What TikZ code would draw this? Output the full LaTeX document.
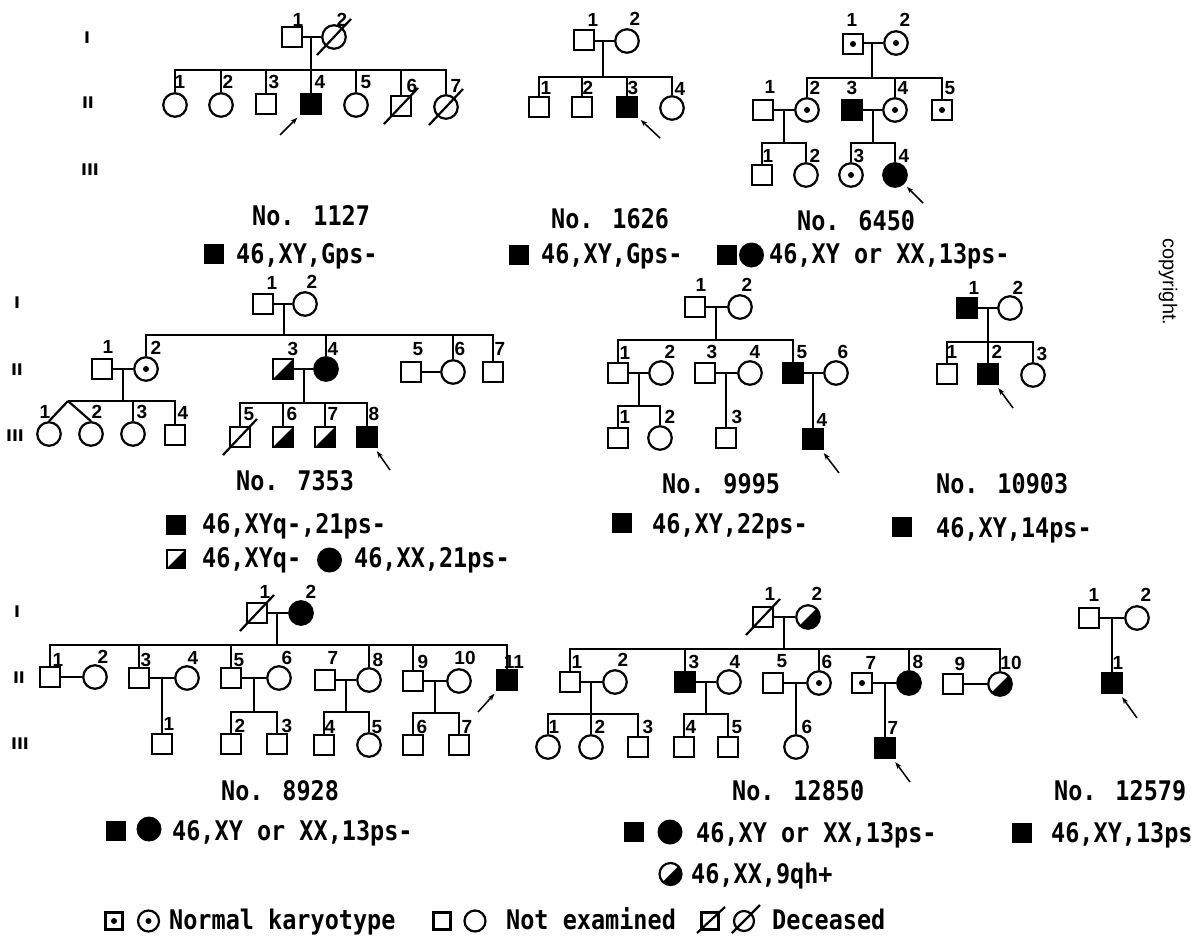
\documentclass[tikz,border=0pt]{standalone}
\usepackage{fontspec}
\usetikzlibrary{arrows.meta}
\newfontfamily\capfam[FakeStretch=0.87]{DejaVu Sans Mono}
\newfontfamily\numfam{Liberation Sans}
\newfontfamily\genfam{DejaVu Sans}
\tikzset{
 ln/.style={line width=2.2pt},
 sq/.style={draw, line width=2.2pt, rectangle, minimum size=19.5pt, inner sep=0pt},
 ci/.style={draw, line width=2.2pt, circle, minimum size=23.5pt, inner sep=0pt},
 aff/.style={fill=black},
 nk/.style={path picture={\fill[black] (path picture bounding box.center) circle (3pt);}},
 halffill/.style={path picture={\fill[black] (path picture bounding box.south west) -- (path picture bounding box.north east) -- (path picture bounding box.south east) -- cycle;}},
 num/.style={font=\numfam\bfseries\fontsize{19}{19}\selectfont, inner sep=0pt},
 gen/.style={font=\genfam\bfseries\fontsize{16}{16}\selectfont, inner sep=0pt},
 captxt/.style={font=\capfam\bfseries\fontsize{27}{30}\selectfont, inner sep=0pt, anchor=base west},
 ksq/.style={rectangle, fill=black, minimum size=20pt, inner sep=0pt},
 kci/.style={circle, fill=black, minimum size=25pt, inner sep=0pt},
 prob/.style={line width=1.5pt, -{Stealth[length=7pt,width=5pt]}, shorten >=4pt},
}
\newcommand\lb[3]{\node[num] (#1) at (#2) {#3};}
\newcommand\dec[1]{\draw[ln] (#1.center) ++(-17,18) -- ++(34,-36);}
\begin{document}
\begin{tikzpicture}[x=1pt,y=-1pt]
\fill[white] (0,0) rectangle (1191,937);
\useasboundingbox (0,0) rectangle (1191,937);

% generation labels
\node[gen] (g1a) at (87,38) {I};
\node[gen] (g1b) at (88,103) {II};
\node[gen] (g1c) at (90,170) {III};
\node[gen] (g2a) at (17,303) {I};
\node[gen] (g2b) at (17,370) {II};
\node[gen] (g2c) at (15,436) {III};
\node[gen] (g3a) at (17,612) {I};
\node[gen] (g3b) at (19,678) {II};
\node[gen] (g3c) at (20,744) {III};

% ================= No. 1127
\node[sq] (A11) at (292,37) {};
\node[ci] (A12) at (334,37) {};
\coordinate (A-d) at (311,37); \coordinate (A-s) at (311,70);
\node[ci] (A21) at (175,105) {};
\node[ci] (A22) at (221,105) {};
\node[sq] (A23) at (266,104) {};
\node[sq,aff] (A24) at (311,104) {};
\node[ci] (A25) at (356,105) {};
\node[sq] (A26) at (401,106) {};
\node[ci] (A27) at (446,107) {};
\dec{A12} \dec{A26} \dec{A27}
\draw[ln] (A11) -- (A12);
\draw[ln] (A-d) -- (A-s);
\draw[ln] (A21.north) -- (A21.north |- A-s) -- (A27.north |- A-s) -- (A27.north);
\foreach \n in {A22,A23,A24,A25,A26} \draw[ln] (\n.north |- A-s) -- (\n.north);
\lb{Al11}{298,20}{1} \lb{Al12}{342,20}{2}
\lb{Al21}{180,82}{1} \lb{Al22}{228,82}{2} \lb{Al23}{274,82}{3} \lb{Al24}{320,82}{4}
\lb{Al25}{366,82}{5} \lb{Al26}{412,86}{6} \lb{Al27}{456,86}{7}
\coordinate (A-a) at (280,135); \draw[prob] (A-a) -- (A24);
\node[captxt] (A-no) at (252,225) {No. 1127};
\node[ksq] (A-k) at (214,254) {};
\node[captxt] (A-kt) at (236,263) {46,XY,Gps-};

% ================= No. 1626
\node[sq] (B11) at (584,40) {};
\node[ci] (B12) at (627,41) {};
\coordinate (B-d) at (603,41); \coordinate (B-s) at (603,77);
\node[sq] (B21) at (539,107) {};
\node[sq] (B22) at (582,107) {};
\node[sq,aff] (B23) at (627,107) {};
\node[ci] (B24) at (672,108) {};
\draw[ln] (B11.east |- B-d) -- (B12);
\draw[ln] (B-d) -- (B-s);
\draw[ln] (B21.north) -- (B21.north |- B-s) -- (B24.north |- B-s) -- (B24.north);
\foreach \n in {B22,B23} \draw[ln] (\n.north |- B-s) -- (\n.north);
\lb{Bl11}{593,20}{1} \lb{Bl12}{635,19}{2}
\lb{Bl21}{546,88}{1} \lb{Bl22}{588,88}{2} \lb{Bl23}{633,88}{3} \lb{Bl24}{680,89}{4}
\coordinate (B-a) at (660,138); \draw[prob] (B-a) -- (B23);
\node[captxt] (B-no) at (551,228) {No. 1626};
\node[ksq] (B-k) at (519,255) {};
\node[captxt] (B-kt) at (541,263) {46,XY,Gps-};

% ================= No. 6450
\node[sq,nk] (C11) at (853,44) {};
\node[ci,nk] (C12) at (896,43) {};
\coordinate (C-d) at (872,43); \coordinate (C-s) at (872,78);
\node[sq] (C21) at (763,110) {};
\node[ci,nk] (C22) at (807,110) {};
\node[sq,aff] (C23) at (852,110) {};
\node[ci,nk] (C24) at (895,110) {};
\node[sq,nk] (C25) at (942,110) {};
\draw[ln] (C11.east |- C-d) -- (C12);
\draw[ln] (C-d) -- (C-s);
\draw[ln] (C22.north) -- (C22.north |- C-s) -- (C25.north |- C-s) -- (C25.north);
\draw[ln] (C24.north |- C-s) -- (C24.north);
\draw[ln] (C21) -- (C22);
\draw[ln] (C23) -- (C24);
\coordinate (C-d1) at (784,110); \coordinate (C-s1) at (784,143);
\coordinate (C-d2) at (873,110); \coordinate (C-s2) at (873,143);
\draw[ln] (C-d1) -- (C-s1);
\draw[ln] (C-d2) -- (C-s2);
\node[sq] (C31) at (762,175) {};
\node[ci] (C32) at (806,175) {};
\node[ci,nk] (C33) at (851,175) {};
\node[ci,aff] (C34) at (895,175) {};
\draw[ln] (C31.north) -- (C31.north |- C-s1) -- (C32.north |- C-s1) -- (C32.north);
\draw[ln] (C33.north) -- (C33.north |- C-s2) -- (C34.north |- C-s2) -- (C34.north);
\lb{Cl11}{852,20}{1} \lb{Cl12}{905,20}{2}
\lb{Cl21}{770,87}{1} \lb{Cl22}{815,88}{2} \lb{Cl23}{852,88}{3} \lb{Cl24}{903,88}{4} \lb{Cl25}{950,88}{5}
\lb{Cl31}{768,156}{1} \lb{Cl32}{815,156}{2} \lb{Cl33}{859,156}{3} \lb{Cl34}{904,156}{4}
\coordinate (C-a) at (923,203); \draw[prob] (C-a) -- (C34);
\node[captxt] (C-no) at (797,230) {No. 6450};
\node[ksq] (C-k1) at (727,255) {};
\node[kci] (C-k2) at (751.5,255) {};
\node[captxt] (C-kt) at (769,263) {46,XY or XX,13ps-};

% ================= No. 7353
\node[sq] (D11) at (263,304) {};
\node[ci] (D12) at (305,304) {};
\coordinate (D-d) at (284,304); \coordinate (D-s) at (284,335);
\node[sq] (D21) at (102,369) {};
\node[ci,nk] (D22) at (146,369) {};
\node[sq,halffill] (D23) at (283,369) {};
\node[ci,aff] (D24) at (326,369) {};
\node[sq] (D25) at (411,372) {};
\node[ci] (D26) at (453,372) {};
\node[sq] (D27) at (493,372) {};
\draw[ln] (D11) -- (D12);
\draw[ln] (D-d) -- (D-s);
\draw[ln] (D22.north) -- (D22.north |- D-s) -- (D27.north |- D-s) -- (D27.north);
\foreach \n in {D24,D26} \draw[ln] (\n.north |- D-s) -- (\n.north);
\draw[ln] (D21) -- (D22);
\draw[ln] (D23) -- (D24);
\draw[ln] (D25) -- (D26);
\coordinate (D-d1) at (123,369); \coordinate (D-s1) at (123,401);
\coordinate (D-d2) at (304,369); \coordinate (D-s2) at (304,403);
\draw[ln] (D-d1) -- (D-s1);
\draw[ln] (D-d2) -- (D-s2);
\node[ci] (D31) at (49,434) {};
\node[ci] (D32) at (91,434) {};
\node[ci] (D33) at (133,434) {};
\node[sq] (D34) at (175,435) {};
\coordinate (D-tw) at (68,401);
\draw[ln] (D-tw) -- (D34.north |- D-s1) -- (D34.north);
\draw[ln] (D33.north |- D-s1) -- (D33.north);
\draw[ln] (D-tw) -- (D31.north);
\draw[ln] (D-tw) -- (D32.north);
\node[sq] (D35) at (240,437) {};
\node[sq,halffill] (D36) at (283,437) {};
\node[sq,halffill] (D37) at (325,437) {};
\node[sq,aff] (D38) at (367,437) {};
\dec{D35}
\draw[ln] (D35.north) -- (D35.north |- D-s2) -- (D38.north |- D-s2) -- (D38.north);
\foreach \n in {D36,D37} \draw[ln] (\n.north |- D-s2) -- (\n.north);
\lb{Dl11}{272,283}{1} \lb{Dl12}{312,282}{2}
\lb{Dl21}{108,347}{1} \lb{Dl22}{156,348}{2} \lb{Dl23}{293,349}{3} \lb{Dl24}{333,349}{4}
\lb{Dl25}{418,349}{5} \lb{Dl26}{460,349}{6} \lb{Dl27}{500,349}{7}
\lb{Dl31}{45,412}{1} \lb{Dl32}{97,412}{2} \lb{Dl33}{142,412}{3} \lb{Dl34}{183,413}{4}
\lb{Dl35}{249,414}{5} \lb{Dl36}{292,414}{6} \lb{Dl37}{333,414}{7} \lb{Dl38}{374,414}{8}
\coordinate (D-a) at (390,470); \draw[prob] (D-a) -- (D38);
\node[captxt] (D-no) at (236,490) {No. 7353};
\node[ksq] (D-k1) at (176,525) {};
\node[captxt] (D-kt1) at (202,533) {46,XYq-,21ps-};
\node[sq,halffill,minimum size=18pt] (D-k2) at (176,559) {};
\node[captxt] (D-kt2) at (202,567) {46,XYq-};
\node[kci] (D-k3) at (329.5,560) {};
\node[captxt] (D-kt3) at (354,567) {46,XX,21ps-};

% ================= No. 9995
\node[sq] (E11) at (695,307) {};
\node[ci] (E12) at (740,307) {};
\coordinate (E-d) at (716,307); \coordinate (E-s) at (716,340);
\node[sq] (E21) at (618,373) {};
\node[ci] (E22) at (661,373) {};
\node[sq] (E23) at (705,373) {};
\node[ci] (E24) at (750,373) {};
\node[sq,aff] (E25) at (793,373) {};
\node[ci] (E26) at (836,373) {};
\draw[ln] (E11) -- (E12);
\draw[ln] (E-d) -- (E-s);
\draw[ln] (E21.north) -- (E21.north |- E-s) -- (E25.north |- E-s) -- (E25.north);
\draw[ln] (E21) -- (E22);
\draw[ln] (E23) -- (E24);
\draw[ln] (E25) -- (E26);
\coordinate (E-d1) at (639,373); \coordinate (E-s1) at (639,406);
\draw[ln] (E-d1) -- (E-s1);
\node[sq] (E31) at (618,438) {};
\node[ci] (E32) at (660,438) {};
\node[sq] (E33) at (726,438) {};
\node[sq,aff] (E34) at (813,439) {};
\draw[ln] (E31.north) -- (E31.north |- E-s1) -- (E32.north |- E-s1) -- (E32.north);
\coordinate (E-d2) at (726,373); \draw[ln] (E-d2) -- (E33.north);
\coordinate (E-d3) at (813,373); \draw[ln] (E-d3) -- (E34.north);
\lb{El11}{701,285}{1} \lb{El12}{747,285}{2}
\lb{El21}{625,353}{1} \lb{El22}{670,352}{2} \lb{El23}{712,352}{3} \lb{El24}{755,352}{4}
\lb{El25}{802,352}{5} \lb{El26}{843,352}{6}
\lb{El31}{625,417}{1} \lb{El32}{670,417}{2} \lb{El33}{737,417}{3} \lb{El34}{822,420}{4}
\coordinate (E-a) at (839,473); \draw[prob] (E-a) -- (E34);
\node[captxt] (E-no) at (662,493) {No. 9995};
\node[ksq] (E-k) at (622,523) {};
\node[captxt] (E-kt) at (652,533) {46,XY,22ps-};

% ================= No. 10903
\node[sq,aff] (F11) at (967,308) {};
\node[ci] (F12) at (1010,308) {};
\coordinate (F-d) at (988,308); \coordinate (F-s) at (988,342);
\node[sq] (F21) at (947,374) {};
\node[sq,aff] (F22) at (988,374) {};
\node[ci] (F23) at (1033,375) {};
\draw[ln] (F11) -- (F12);
\draw[ln] (F-d) -- (F22.north);
\draw[ln] (F21.north) -- (F21.north |- F-s) -- (F23.north |- F-s) -- (F23.north);
\lb{Fl11}{974,288}{1} \lb{Fl12}{1018,288}{2}
\lb{Fl21}{952,352}{1} \lb{Fl22}{997,352}{2} \lb{Fl23}{1042,354}{3}
\coordinate (F-a) at (1013,408); \draw[prob] (F-a) -- (F22);
\node[captxt] (F-no) at (936,493) {No. 10903};
\node[ksq] (F-k) at (902,527) {};
\node[captxt] (F-kt) at (936,537) {46,XY,14ps-};

% ================= No. 8928
\node[sq] (G11) at (257,613) {};
\node[ci,aff] (G12) at (301,613) {};
\dec{G11}
\coordinate (G-d) at (277,613); \coordinate (G-s) at (277,645);
\node[sq] (G21) at (50,677) {};
\node[ci] (G22) at (95,677) {};
\node[sq] (G23) at (139,678) {};
\node[ci] (G24) at (187,678) {};
\node[sq] (G25) at (231,678) {};
\node[ci] (G26) at (279,678) {};
\node[sq] (G27) at (325,680) {};
\node[ci] (G28) at (369,680) {};
\node[sq] (G29) at (413,681) {};
\node[ci] (G210) at (459,681) {};
\node[sq,aff] (G211) at (507,680) {};
\draw[ln] (G11) -- (G12);
\draw[ln] (G-d) -- (G-s);
\draw[ln] (G21.north) -- (G21.north |- G-s) -- (G211.north |- G-s) -- (G211.north);
\foreach \n in {G23,G25,G28,G29} \draw[ln] (\n.north |- G-s) -- (\n.north);
\draw[ln] (G21) -- (G22);
\draw[ln] (G23) -- (G24);
\draw[ln] (G25) -- (G26);
\draw[ln] (G27) -- (G28);
\draw[ln] (G29) -- (G210);
\node[sq] (G31) at (162,744) {};
\node[sq] (G32) at (231,744) {};
\node[sq] (G33) at (277,744) {};
\node[sq] (G34) at (324,745) {};
\node[ci] (G35) at (369,745) {};
\node[sq] (G36) at (413,745) {};
\node[sq] (G37) at (459,745) {};
\coordinate (G-d1) at (162,678); \draw[ln] (G-d1) -- (G31.north);
\coordinate (G-d2) at (254,678); \coordinate (G-s2) at (254,712);
\coordinate (G-d3) at (346,680); \coordinate (G-s3) at (346,712);
\coordinate (G-d4) at (435,681); \coordinate (G-s4) at (435,713);
\draw[ln] (G-d2) -- (G-s2);
\draw[ln] (G-d3) -- (G-s3);
\draw[ln] (G-d4) -- (G-s4);
\draw[ln] (G32.north) -- (G32.north |- G-s2) -- (G33.north |- G-s2) -- (G33.north);
\draw[ln] (G34.north) -- (G34.north |- G-s3) -- (G35.north |- G-s3) -- (G35.north);
\draw[ln] (G36.north) -- (G36.north |- G-s4) -- (G37.north |- G-s4) -- (G37.north);
\lb{Gl11}{265,592}{1} \lb{Gl12}{311,592}{2}
\lb{Gl21}{58,660}{1} \lb{Gl22}{103,657}{2} \lb{Gl23}{146,660}{3} \lb{Gl24}{193,658}{4}
\lb{Gl25}{239,660}{5} \lb{Gl26}{287,658}{6} \lb{Gl27}{333,658}{7} \lb{Gl28}{378,660}{8}
\lb{Gl29}{423,662}{9} \lb{Gl210}{465,658}{10} \lb{Gl211}{514,662}{11}
\lb{Gl31}{169,724}{1} \lb{Gl32}{240,726}{2} \lb{Gl33}{287,726}{3} \lb{Gl34}{330,727}{4}
\lb{Gl35}{377,727}{5} \lb{Gl36}{422,727}{6} \lb{Gl37}{467,727}{7}
\coordinate (G-a) at (478,712); \draw[prob] (G-a) -- (G211);
\node[captxt] (G-no) at (221,800) {No. 8928};
\node[ksq] (G-k1) at (116,831) {};
\node[kci] (G-k2) at (149,829) {};
\node[captxt] (G-kt) at (172,840) {46,XY or XX,13ps-};

% ================= No. 12850
\node[sq] (H11) at (763,617) {};
\node[ci,halffill] (H12) at (808,617) {};
\dec{H11}
\coordinate (H-d) at (784,617); \coordinate (H-s) at (784,649);
\node[sq] (H21) at (570,682) {};
\node[ci] (H22) at (615,682) {};
\node[sq,aff] (H23) at (685,682) {};
\node[ci] (H24) at (729,682) {};
\node[sq] (H25) at (773,683) {};
\node[ci,nk] (H26) at (819,683) {};
\node[sq,nk] (H27) at (862,683) {};
\node[ci,aff] (H28) at (909,683) {};
\node[sq] (H29) at (953,684) {};
\node[ci,halffill] (H210) at (1000,684) {};
\draw[ln] (H11) -- (H12);
\draw[ln] (H-d) -- (H-s);
\draw[ln] (H21.north) -- (H21.north |- H-s) -- (H210.north |- H-s) -- (H210.north);
\foreach \n in {H23,H26,H28} \draw[ln] (\n.north |- H-s) -- (\n.north);
\draw[ln] (H21) -- (H22);
\draw[ln] (H23) -- (H24);
\draw[ln] (H25) -- (H26);
\draw[ln] (H27) -- (H28);
\draw[ln] (H29) -- (H210);
\node[ci] (H31) at (548,747) {};
\node[ci] (H32) at (591,747) {};
\node[sq] (H33) at (638,747) {};
\node[sq] (H34) at (684,747) {};
\node[sq] (H35) at (728,747) {};
\node[ci] (H36) at (796,747) {};
\node[sq,aff] (H37) at (885,748) {};
\coordinate (H-d1) at (591,682); \coordinate (H-s1) at (591,714);
\coordinate (H-d2) at (706,682); \coordinate (H-s2) at (706,714);
\draw[ln] (H-d1) -- (H-s1);
\draw[ln] (H-d2) -- (H-s2);
\draw[ln] (H31.north) -- (H31.north |- H-s1) -- (H33.north |- H-s1) -- (H33.north);
\draw[ln] (H32.north |- H-s1) -- (H32.north);
\draw[ln] (H34.north) -- (H34.north |- H-s2) -- (H35.north |- H-s2) -- (H35.north);
\coordinate (H-d3) at (796,683); \draw[ln] (H-d3) -- (H36.north);
\coordinate (H-d4) at (885,683); \draw[ln] (H-d4) -- (H37.north);
\lb{Hl11}{770,594}{1} \lb{Hl12}{817,594}{2}
\lb{Hl21}{577,662}{1} \lb{Hl22}{623,660}{2} \lb{Hl23}{694,662}{3} \lb{Hl24}{735,662}{4}
\lb{Hl25}{782,661}{5} \lb{Hl26}{827,662}{6} \lb{Hl27}{871,663}{7} \lb{Hl28}{918,662}{8}
\lb{Hl29}{960,664}{9} \lb{Hl210}{1011,663}{10}
\lb{Hl31}{554,727}{1} \lb{Hl32}{600,727}{2} \lb{Hl33}{648,727}{3} \lb{Hl34}{691,727}{4}
\lb{Hl35}{737,727}{5} \lb{Hl36}{807,727}{6} \lb{Hl37}{893,728}{7}
\coordinate (H-a) at (910,782); \draw[prob] (H-a) -- (H37);
\node[captxt] (H-no) at (732,800) {No. 12850};
\node[ksq] (H-k1) at (634,832) {};
\node[kci] (H-k2) at (670,832) {};
\node[captxt] (H-kt1) at (696,842) {46,XY or XX,13ps-};
\node[ci,halffill,minimum size=22pt] (H-k3) at (670.5,874) {};
\node[captxt] (H-kt2) at (691,883) {46,XX,9qh+};

% ================= No. 12579
\node[sq] (K11) at (1089,618) {};
\node[ci] (K12) at (1137,618) {};
\node[sq,aff] (K21) at (1112,683) {};
\coordinate (K-d) at (1112,618);
\draw[ln] (K11) -- (K12);
\draw[ln] (K-d) -- (K21.north);
\lb{Kl11}{1094,595}{1} \lb{Kl12}{1146,595}{2} \lb{Kl21}{1118,663}{1}
\coordinate (K-a) at (1137,718); \draw[prob] (K-a) -- (K21);
\node[captxt] (K-no) at (1054,800) {No. 12579};
\node[ksq] (K-k) at (1022,833) {};
\node[captxt] (K-kt) at (1051,842) {46,XY,13ps};

% ================= legend
\node[sq,nk,minimum size=17pt] (L1) at (114,921) {};
\node[ci,nk,minimum size=21pt] (L2) at (148.5,921) {};
\node[captxt] (L3) at (169,929) {Normal karyotype};
\node[sq,minimum size=17pt] (L4) at (442,921) {};
\node[ci,minimum size=21pt] (L5) at (475,921) {};
\node[captxt] (L6) at (506,929) {Not examined};
\node[sq,minimum size=17pt] (L7) at (710,921) {};
\node[ci,minimum size=20pt] (L8) at (744,921) {};
\draw[ln] (L7.center) ++(-13,12) -- ++(28,-26);
\draw[ln] (L8.center) ++(-12,12) -- ++(28,-28);
\node[captxt] (L9) at (772,929) {Deceased};

% side stamp
\node[font=\numfam\fontsize{20}{20}\selectfont, rotate=-90, inner sep=0pt] (wm) at (1168,282) {copyright.};
\end{tikzpicture}
\end{document}
